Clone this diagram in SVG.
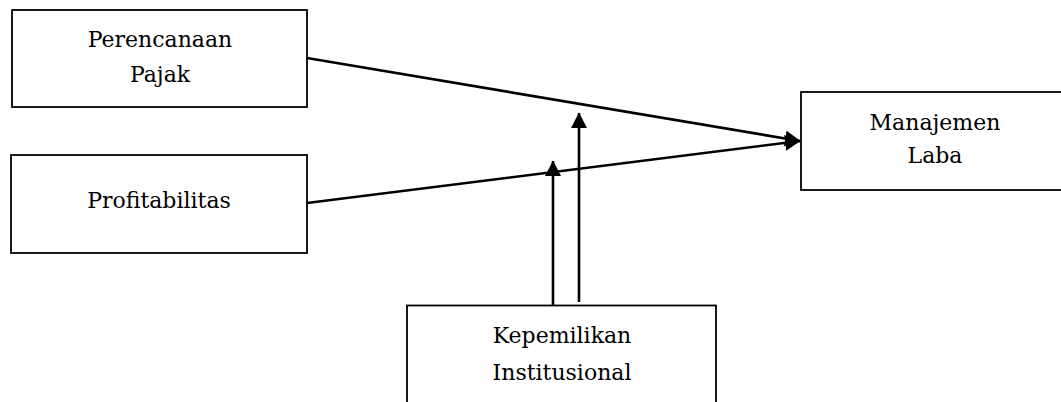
<svg xmlns="http://www.w3.org/2000/svg" width="1061" height="402" viewBox="0 0 1061 402">
<style>
.box{fill:#fff;stroke:#000;stroke-width:1.8}
.t{font-family:"DejaVu Serif","Liberation Serif",serif;font-size:22px;fill:#000;text-anchor:middle}
.c{stroke:#000;stroke-width:2.6;fill:none}
</style>
<defs>
<marker id="ah" markerWidth="18" markerHeight="18" refX="15" refY="8" orient="auto" markerUnits="userSpaceOnUse">
<path d="M0,0 L15.5,8 L0,16 Z" fill="#000"/>
</marker>
</defs>
<rect width="1061" height="402" fill="#fff"/>
<g id="node-perencanaan">
<rect class="box" x="12" y="10" width="295" height="97"/>
<text class="t" x="160" y="47">Perencanaan</text>
<text class="t" x="160" y="82">Pajak</text>
</g>
<g id="node-profitabilitas">
<rect class="box" x="11" y="155" width="296" height="98"/>
<text class="t" x="159" y="208">Profitabilitas</text>
</g>
<g id="node-manajemen">
<rect class="box" x="801" y="92" width="270" height="98"/>
<text class="t" x="935" y="130">Manajemen</text>
<text class="t" x="935" y="163">Laba</text>
</g>
<g id="node-kepemilikan">
<rect class="box" x="407" y="305.5" width="309" height="110"/>
<text class="t" x="562" y="343">Kepemilikan</text>
<text class="t" x="562" y="380">Institusional</text>
</g>
<g id="connectors">
<line class="c" x1="307" y1="58" x2="800" y2="141" marker-end="url(#ah)"/>
<line class="c" x1="307" y1="203" x2="800" y2="141" marker-end="url(#ah)"/>
<line class="c" x1="553" y1="305" x2="553" y2="161" marker-end="url(#ah)"/>
<line class="c" x1="579" y1="302" x2="579" y2="113" marker-end="url(#ah)"/>
</g>
</svg>
